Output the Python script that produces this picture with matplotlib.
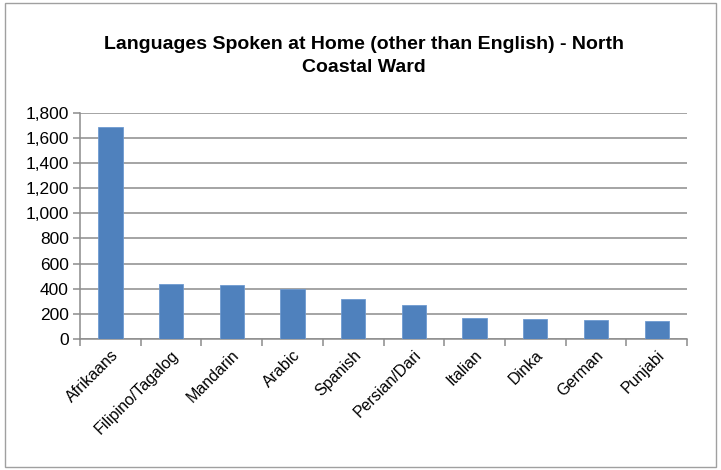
import matplotlib
matplotlib.use('Agg')
import matplotlib.pyplot as plt
import numpy as np
from matplotlib.patches import Rectangle

# Data
languages = ['Afrikaans', 'Filipino/Tagalog', 'Mandarin', 'Arabic', 'Spanish',
             'Persian/Dari', 'Italian', 'Dinka', 'German', 'Punjabi']
speakers = [1690, 440, 430, 400, 318, 272, 169, 161, 151, 143]
y_ticks = [0, 200, 400, 600, 800, 1000, 1200, 1400, 1600, 1800]

plt.rcParams['font.family'] = ['Liberation Sans', 'DejaVu Sans']

fig = plt.figure(figsize=(7.21, 4.70), dpi=100)
# outer chart border
fig.patches.append(Rectangle((0.007, 0.006), 0.986, 0.988, transform=fig.transFigure,
                             fill=False, edgecolor='#a0a0a0', linewidth=1))

ax = fig.add_axes([0.111, 0.279, 0.842, 0.481])
x = np.arange(len(languages))
ax.bar(x, speakers, width=0.4, color='#4f81bd', edgecolor='#6f9ad0', linewidth=0.6, zorder=3)

ax.set_xlim(-0.5, len(languages) - 0.5)
ax.set_ylim(0, 1800)
ax.set_yticks(y_ticks)
ax.set_yticklabels([f'{v:,}' for v in y_ticks], fontsize=12.5)
ax.yaxis.grid(True, color='#8c8c8c', linewidth=1.1, zorder=0)

# category labels with ticks at category boundaries
ax.set_xticks(x)
ax.set_xticklabels(languages, rotation=45, ha='right', rotation_mode='anchor', fontsize=11.5)
ax.tick_params(axis='x', length=0, pad=6)
ax.set_xticks(np.arange(-0.5, len(languages)), minor=True)
ax.tick_params(axis='x', which='minor', length=5, color='#8c8c8c', width=1.1)
ax.tick_params(axis='y', length=5, color='#8c8c8c', width=1.1, pad=3)

for side in ['top', 'right']:
    ax.spines[side].set_visible(False)
for side in ['left', 'bottom']:
    ax.spines[side].set_color('#8c8c8c')
    ax.spines[side].set_linewidth(1.1)

fig.text(0.505, 0.88, 'Languages Spoken at Home (other than English) - North\nCoastal Ward',
         ha='center', va='center', fontsize=14, fontweight='bold', linespacing=1.45)

fig.savefig('out.png', dpi=100)
